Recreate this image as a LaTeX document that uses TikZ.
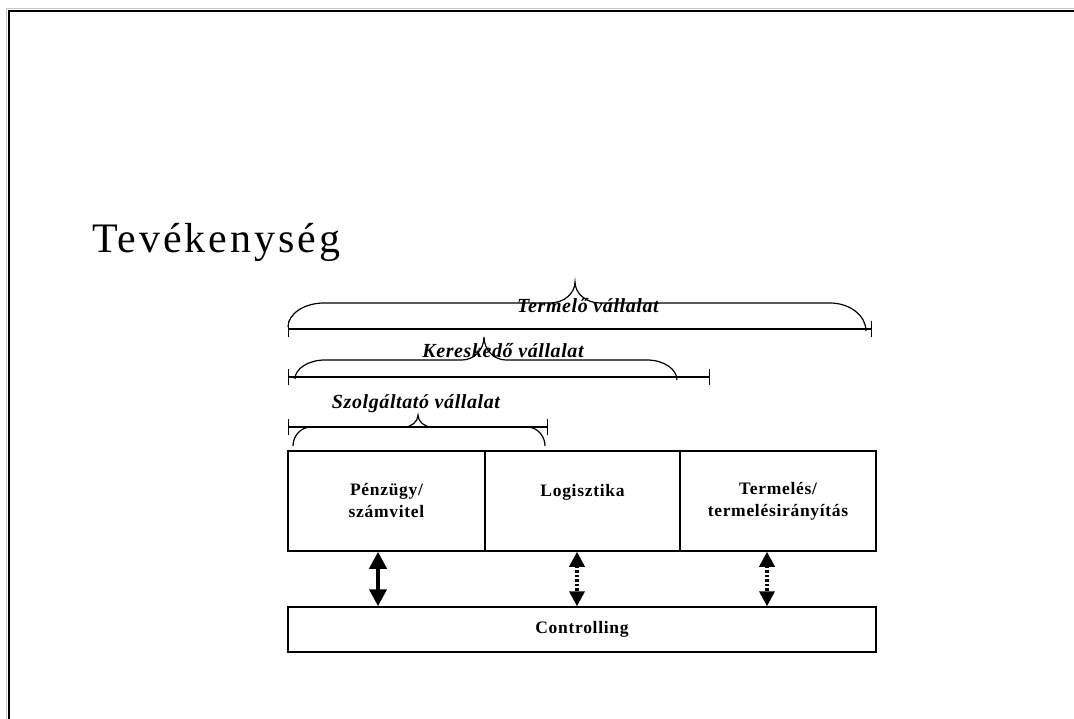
\documentclass[tikz,border=0pt]{standalone}
\usepackage{fontspec}
\setmainfont{Liberation Serif}
\newfontfamily\titlefont[LetterSpace=7]{Liberation Serif}
\newfontfamily\labelfont[LetterSpace=3]{Liberation Serif}
\newfontfamily\boxfont[LetterSpace=4]{Liberation Serif}
\usetikzlibrary{arrows.meta}

% overbrace: #1,#2 left end; #3,#4 right end; #5 tip x; #6 bar y; #7 tip y;
% #8 end-curve radius; #9 tip-curve radius
\newcommand\overbracepath[9]{%
  \draw[bracestyle] (#1,#2)
    .. controls (#1,{#2+0.55*(#6-#2)}) and ({#1+0.45*#8},#6) .. ({#1+#8},#6)
    -- ({#5-#9},#6)
    .. controls ({#5-0.45*#9},#6) and (#5,{#7+0.55*(#6-#7)}) .. (#5,#7)
    .. controls (#5,{#7+0.55*(#6-#7)}) and ({#5+0.45*#9},#6) .. ({#5+#9},#6)
    -- ({#3-#8},#6)
    .. controls ({#3-0.45*#8},#6) and (#3,{#4+0.55*(#6-#4)}) .. (#3,#4);}

\tikzset{
  bracestyle/.style={line width=1.2pt},
  spanline/.style={line width=1.4pt, {Bar[width=16pt]}-{Bar[width=16pt]}},
  spanlabel/.style={anchor=base, inner sep=0pt,
    font={\labelfont\bfseries\itshape\fontsize{20pt}{22pt}\selectfont}},
  unitbox/.style={draw, line width=1.5pt, minimum height=100pt, inner sep=0pt,
    align=center, font={\boxfont\bfseries\fontsize{17.5pt}{22pt}\selectfont}},
  solidarrow/.style={line width=4pt,
    {Triangle[width=17pt,length=17pt]}-{Triangle[width=17pt,length=17pt]}},
  dotarrow/.style={line width=3.5pt, dash pattern=on 2.5pt off 2pt,
    {Triangle[width=15pt,length=15pt]}-{Triangle[width=15pt,length=15pt]}},
}

\begin{document}
\begin{tikzpicture}[x=1pt,y=-1pt]
\useasboundingbox (0,0) rectangle (1074,719);

% page frame
\draw[gray!45, line width=1pt] (6.5,719) -- (6.5,8.5) -- (1074,8.5);
\draw[line width=2pt] (9,719) -- (9,11) -- (1074,11);

% title
\node[anchor=base west, inner sep=0pt,
      font={\titlefont\fontsize{42pt}{48pt}\selectfont}] (title) at (92,253) {Tevékenység};

% span lines
\coordinate (t1) at (288,329); \coordinate (t2) at (872,329);
\coordinate (k1) at (288,377); \coordinate (k2) at (710,377);
\coordinate (s1) at (288,427); \coordinate (s2) at (548,427);
\draw[spanline] (t1) -- (t2);
\draw[spanline] (k1) -- (k2);
\draw[spanline] (s1) -- (s2);

% braces
\overbracepath{288}{327}{866}{331}{575}{303}{282}{36}{25}
\overbracepath{295}{379}{677}{380}{484}{360}{337}{30}{22}
\overbracepath{293}{446}{545}{446}{418}{427}{415}{18}{14}

% brace labels
\node[spanlabel] (termelo) at (588,313) {Termelő vállalat};
\node[spanlabel] (keresk) at (503,358) {Kereskedő vállalat};
\node[spanlabel] (szolg) at (416,408) {Szolgáltató vállalat};

% function boxes
\node[unitbox, minimum width=197pt] (pz) at (386.5,501) {Pénzügy/\\számvitel};
\node[unitbox, minimum width=195pt] (lg) at (582.5,501) {Logisztika\\\mbox{}};
\node[unitbox, minimum width=196pt] (tm) at (778,501) {Termelés/\\termelésirányítás};
\node[unitbox, minimum width=588pt, minimum height=45pt] (ctrl) at (582,629.5) {Controlling};

% links to controlling
\coordinate (a1) at (378,0);
\coordinate (a2) at (577,0);
\coordinate (a3) at (767,0);
\draw[solidarrow] (pz.south -| a1) -- (ctrl.north -| a1);
\draw[dotarrow] (lg.south -| a2) -- (ctrl.north -| a2);
\draw[dotarrow] (tm.south -| a3) -- (ctrl.north -| a3);
\end{tikzpicture}
\end{document}
